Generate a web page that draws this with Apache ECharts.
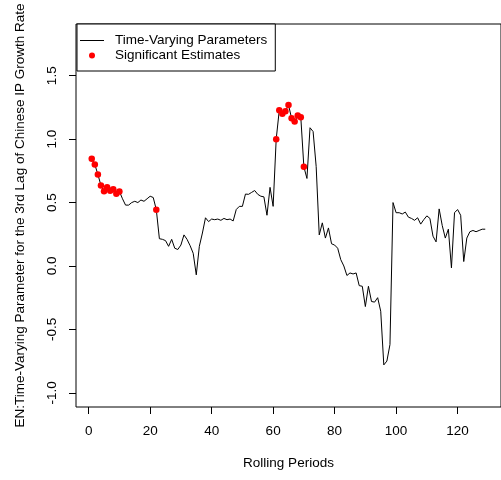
<!DOCTYPE html>
<html>
<head>
<meta charset="utf-8">
<script src="https://cdn.jsdelivr.net/npm/echarts@6/dist/echarts.min.js"></script>
<style>
  html, body { margin: 0; padding: 0; background: #fff; }
  #chart { width: 501px; height: 480px; }
</style>
</head>
<body>
<div id="chart"></div>
<script>
// Time-varying coefficient estimates, one per rolling period (periods 1..129)
const tvp = [
  0.845, 0.80, 0.722, 0.635, 0.59, 0.62, 0.593, 0.604, 0.57, 0.588,
  0.53, 0.48, 0.48, 0.50, 0.51, 0.50, 0.52, 0.51, 0.53, 0.55,
  0.54, 0.444, 0.215, 0.21, 0.20, 0.155, 0.21, 0.14, 0.13, 0.165,
  0.245, 0.21, 0.16, 0.10, -0.07, 0.155, 0.26, 0.38, 0.35, 0.37,
  0.365, 0.37, 0.36, 0.375, 0.365, 0.37, 0.355, 0.445, 0.47, 0.47,
  0.567, 0.565, 0.58, 0.595, 0.565, 0.55, 0.545, 0.40, 0.62, 0.47,
  1.0, 1.228, 1.20, 1.22, 1.27, 1.165, 1.14, 1.186, 1.173, 0.782,
  0.69, 1.09, 1.06, 0.785, 0.245, 0.34, 0.22, 0.30, 0.175, 0.165,
  0.14, 0.05, 0.0, -0.075, -0.055, -0.063, -0.055, -0.155, -0.16, -0.32,
  -0.16, -0.28, -0.285, -0.25, -0.357, -0.78, -0.75, -0.62, 0.50, 0.42,
  0.42, 0.41, 0.425, 0.385, 0.375, 0.36, 0.38, 0.33, 0.365, 0.395,
  0.375, 0.235, 0.19, 0.45, 0.32, 0.22, 0.29, -0.015, 0.42, 0.445,
  0.40, 0.035, 0.22, 0.27, 0.28, 0.27, 0.28, 0.29, 0.29
];

// Rolling periods whose estimate is statistically significant
const significantPeriods = [1, 2, 3, 4, 5, 6, 7, 8, 9, 10, 22,
  61, 62, 63, 64, 65, 66, 67, 68, 69, 70];

const xTicks = [0, 20, 40, 60, 80, 100, 120];
const yTicks = [-1.0, -0.5, 0.0, 0.5, 1.0, 1.5];

const lineData = tvp.map((v, i) => [i + 1, v]);
const sigData = significantPeriods.map(p => [p, tvp[p - 1]]);

const FONT = "'Liberation Sans', Arial, sans-serif";
const FS = 13.5;

const chart = echarts.init(document.getElementById('chart'), null, { renderer: 'canvas' });

chart.setOption({
  animation: false,
  backgroundColor: '#ffffff',
  textStyle: { fontFamily: FONT, color: '#000' },
  grid: {
    left: 76, top: 24, width: 431.5, height: 383,
    show: true, borderColor: '#000', borderWidth: 1,
    backgroundColor: 'transparent'
  },
  legend: {
    left: 77, top: 24,
    orient: 'vertical',
    itemWidth: 24, itemHeight: 6, itemGap: 0,
    padding: [9, 8, 8, 3],
    borderColor: '#000', borderWidth: 1,
    backgroundColor: '#fff',
    symbolKeepAspect: true,
    textStyle: { fontFamily: FONT, fontSize: FS, color: '#000', lineHeight: 15, padding: [0, 0, 0, 6] },
    data: [
      { name: 'Time-Varying Parameters', icon: 'path://M0,0H24V1H0Z', itemStyle: { color: '#000' } },
      { name: 'Significant Estimates', icon: 'circle' }
    ]
  },
  xAxis: {
    type: 'value',
    min: -4.12, max: 134.12,
    name: 'Rolling Periods',
    nameLocation: 'middle',
    nameGap: 49,
    nameTextStyle: { fontFamily: FONT, fontSize: FS, color: '#000' },
    axisLine: { show: false, onZero: false },
    axisTick: { show: true, length: 7, lineStyle: { color: '#000', width: 1 }, customValues: xTicks },
    axisLabel: { margin: 17, fontFamily: FONT, fontSize: FS, color: '#000', customValues: xTicks },
    splitLine: { show: false }
  },
  yAxis: {
    type: 'value',
    min: -1.112, max: 1.908,
    name: 'EN:Time-Varying Parameter for the 3rd Lag of Chinese IP Growth Rate',
    nameLocation: 'middle',
    nameRotate: 90,
    nameGap: 49,
    nameTextStyle: { fontFamily: FONT, fontSize: FS, color: '#000' },
    axisLine: { show: false, onZero: false },
    axisTick: { show: true, length: 7, lineStyle: { color: '#000', width: 1 }, customValues: yTicks },
    axisLabel: {
      rotate: 90, margin: 17, fontFamily: FONT, fontSize: FS, color: '#000',
      customValues: yTicks,
      formatter: v => v.toFixed(1)
    },
    splitLine: { show: false }
  },
  series: [
    {
      name: 'Time-Varying Parameters',
      type: 'line',
      data: lineData,
      symbol: 'none',
      lineStyle: { color: '#000', width: 1 },
      itemStyle: { color: '#000' },
      z: 2
    },
    {
      name: 'Significant Estimates',
      type: 'scatter',
      data: sigData,
      symbol: 'circle',
      symbolSize: 6.5,
      itemStyle: { color: '#ff0000', opacity: 1 },
      z: 3
    }
  ]
});
</script>
</body>
</html>
